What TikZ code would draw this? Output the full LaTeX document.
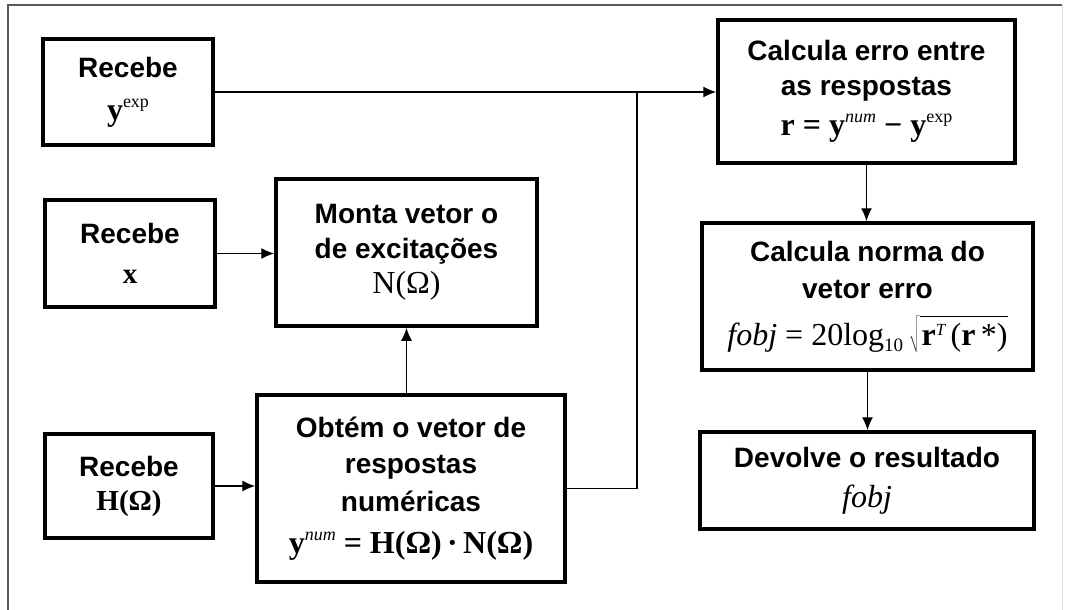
\documentclass[tikz,border=0pt]{standalone}
\usepackage{fontspec}
\setmainfont{Liberation Sans}
\newfontfamily\tms{Liberation Serif}
\usetikzlibrary{arrows.meta}

% formula font (Times-like) and small raised / lowered indices
\newcommand\mth[1]{{\tms\fontsize{32}{34}\selectfont #1}}
\newcommand\mths[1]{{\tms\fontsize{29}{32}\selectfont #1}}
\newcommand\hi[1]{\raisebox{13pt}{\fontsize{18}{18}\selectfont #1}}
\newcommand\lo[1]{\raisebox{-6pt}{\fontsize{19}{19}\selectfont #1}}
\newcommand\yb{\textbf{y}}

\tikzset{
  blk/.style={draw, line width=3.5pt, fill=white, inner sep=0pt, align=center,
    font=\bfseries\fontsize{28}{35}\selectfont},
  link/.style={line width=1.3pt},
  flow/.style={link, -{Latex[length=13pt,width=11pt]}},
}

\begin{document}
\begin{tikzpicture}[x=1pt,y=-1pt]
\useasboundingbox (0,0) rectangle (1068,610);

% outer frame
\draw[line width=1.6pt, black!65] (8,612) -- (8,5) -- (1062,5);
\draw[line width=1pt, black!15] (1062,5) -- (1062,612);

% blocks
\node[blk, minimum width=170pt, minimum height=106pt] (A) at (128,92)
  {Recebe\\[8pt]\mth{\yb\hi{\mdseries exp}}};
\node[blk, minimum width=170pt, minimum height=107pt] (B) at (130,253.5)
  {Recebe\\[5pt]\mths{\textbf{x}}};
\node[blk, minimum width=261pt, minimum height=147pt] (C) at (406.5,252.5)
  {Monta vetor o\\de excitações\\\mth{\mdseries N(Ω)}};
\node[blk, minimum width=168pt, minimum height=104pt] (D) at (129,486)
  {Recebe\\[-1pt]\mths{\textbf{H}(Ω)}};
\node[blk, minimum width=308pt, minimum height=187pt] (E) at (411,488.5)
  {Obtém o vetor de\\[1pt]respostas\\[3pt]numéricas\\[7pt]\mth{\yb\hi{\mdseries\itshape num} = \textbf{H}(Ω)\,·\,\textbf{N}(Ω)}};
\node[blk, minimum width=297pt, minimum height=143pt] (F) at (866.5,91.5)
  {Calcula erro entre\\as respostas\\[5pt]\mth{\textbf{r} = \yb\hi{\mdseries\itshape num} − \yb\hi{\mdseries exp}}};
\node[blk, minimum width=331pt, minimum height=147pt] (G) at (867.5,296.5)
  {Calcula norma do\\[2pt]vetor erro\\[12pt]\mth{\mdseries\itshape fobj\/ \upshape= 20log\lo{10}\kern6pt$\sqrt{\hbox{\rule[-7pt]{0pt}{35pt}\kern2pt\textbf{r}\smash{\raisebox{10pt}{\fontsize{17}{17}\selectfont\itshape T}}\,(\textbf{r}\,*)}}$}};
\node[blk, minimum width=334pt, minimum height=97pt] (H) at (867,480.5)
  {Devolve o resultado\\[5pt]\mth{\mdseries\itshape fobj}};

% connectors
\coordinate (j) at (637,92);
\draw[flow] (A.east) -- (A.east -| F.west);
\draw[link] (E.east) -| (j);
\draw[flow] (B.east) -- (B.east -| C.west);
\draw[flow] (C.south |- E.north) -- (C.south);
\draw[flow] (D.east) -- (D.east -| E.west);
\draw[flow] (F.south) -- (F.south |- G.north);
\draw[flow] (G.south) -- (G.south |- H.north);
\end{tikzpicture}
\end{document}
